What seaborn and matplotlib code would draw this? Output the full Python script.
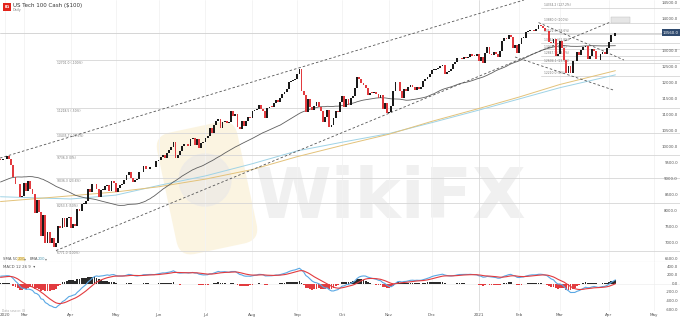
import numpy as np
import pandas as pd
import matplotlib
matplotlib.use("Agg")
import matplotlib.pyplot as plt
import matplotlib.transforms as mtransforms
from matplotlib.patches import Rectangle, FancyBboxPatch
import seaborn as sns

sns.set_theme(style="white")
plt.rcParams["font.family"] = ["DejaVu Sans"]

# ---------------- data (daily closes) ----------------
warmup_closes = [  # Dec 2019 .. 12 Feb 2020, only used for the indicators
    8310, 8257, 8302, 8310, 8399, 8367, 8377, 8413, 8480, 8503, 8572, 8574, 8581, 8627, 8655,
    8675, 8676, 8751, 8738, 8666, 8733,
    8872, 8794, 8848, 8846, 8912, 8991, 8973, 9092, 9041, 9058, 9174, 9212, 9215, 9222, 9257,
    9115, 8952, 9091, 9085, 9142, 8992,
    9126, 9335, 9368, 9446, 9401, 9518, 9518, 9613]
close_2020_02 = [9596, 9623, 9629, 9718, 9630, 9447, 9079, 8834, 8851, 8436, 8462]
close_2020_03 = [8877, 8614, 8952, 8689, 8531, 7948, 8339, 7970, 7221, 7873, 6994, 7335, 7020,
                 7150, 6879, 6994, 7553, 7486, 7798, 7502, 7774, 7813]
close_2020_04 = [7487, 7592, 7528, 8052, 8007, 8236, 8238, 8318, 8693, 8599, 8832, 8833, 8677,
                 8427, 8669, 8675, 8786, 8828, 8640, 8943, 8890]
close_2020_05 = [8609, 8711, 8809, 8854, 8980, 9121, 9226, 9022, 8899, 8967, 9015, 9228, 9207,
                 9393, 9300, 9324, 9368, 9376, 9368, 9555]
close_2020_06 = [9598, 9691, 9761, 9673, 9824, 9912, 10003, 10163, 9659, 9746, 9875, 10036,
                 10081, 10096, 10037, 10237, 10283, 10076, 10237, 9962, 10124, 10156]
close_2020_07 = [10279, 10341, 10604, 10434, 10697, 10800, 10868, 10590, 10788, 10826, 10748,
                 10767, 11117, 10968, 11031, 10635, 10569, 10803, 10643, 10802, 10939, 10905]
close_2020_08 = [11112, 11143, 11180, 11312, 11187, 11129, 10899, 11213, 11259, 11249, 11366,
                 11466, 11393, 11542, 11665, 11730, 11822, 12020, 12050, 12087, 12111]
close_2020_09 = [12292, 12421, 11759, 11623, 11084, 11491, 11241, 11143, 11270, 11397, 11262,
                 11129, 10794, 10922, 11167, 10632, 10672, 10914, 11117, 11088, 11418]
close_2020_10 = [11583, 11233, 11508, 11297, 11541, 11604, 11852, 12170, 12108, 11997, 11938,
                 11852, 11622, 11688, 11680, 11703, 11665, 11534, 11625, 11188, 11368, 11052]
close_2020_11 = [11096, 11285, 11738, 12020, 12035, 11738, 11534, 11810, 11734, 11863, 11925,
                 11857, 11763, 11882, 11821, 11879, 12049, 12110, 12193, 12268]
close_2020_12 = [12405, 12405, 12423, 12458, 12530, 12560, 12282, 12342, 12377, 12440, 12595,
                 12658, 12764, 12755, 12742, 12807, 12771, 12805, 12900, 12850, 12845, 12888]
close_2021_01 = [12694, 12802, 12623, 12939, 13105, 12903, 12880, 12955, 12890, 12803, 12998,
                 13297, 13404, 13366, 13483, 13427, 13089, 13170, 12925]
close_2021_02 = [13225, 13403, 13410, 13589, 13611, 13641, 13653, 13612, 13688, 13807, 13769,
                 13711, 13627, 13606, 13266, 13230, 13376, 12838, 12909]
close_2021_03 = [13314, 13090, 12712, 12323, 12526, 12300, 12696, 12672, 12960, 12882, 13024,
                 13104, 13141, 12732, 12835, 13041, 12986, 12736, 12724, 12895, 12955, 12893,
                 13091]
close_2021_04 = [13262, 13481, 13470, 13560]

holidays = ["2020-02-17", "2020-04-10", "2020-05-25", "2020-07-03", "2020-09-07", "2020-11-26",
            "2020-12-25", "2021-01-01", "2021-01-18", "2021-02-15", "2021-04-02", "2021-05-31"]

# moving averages
sma200_dates = ["2020-02-13", "2020-04-01", "2020-05-01", "2020-06-01", "2020-07-01",
                "2020-08-03", "2020-09-01", "2020-10-01", "2020-11-02", "2020-12-01",
                "2021-01-04", "2021-02-01", "2021-03-01", "2021-04-07"]
sma200_vals = [8300, 8480, 8600, 8760, 9000, 9300, 9700, 10050, 10400, 10800, 11200, 11560,
               11950, 12380]
ema200_vals = [8450, 8380, 8500, 8800, 9100, 9480, 9880, 10150, 10420, 10760, 11150, 11500,
               11850, 12250]

# fibonacci levels
fib1_high, fib1_low = 9736.0, 6771.0
fib1_ratios = [-1.0, -0.5, -0.236, 0.0, 0.236, 0.5, 1.0]
fib1_start = "2020-03-23"
fib2_high, fib2_low = 13880.0, 12210.0
fib2_ratios = [1.272, 1.0, 0.786, 0.618, 0.5, 0.382, 0.236, 0.0]
fib2_start = "2021-02-16"

# trend lines: (date, price) anchors
upper_channel = [("2020-02-13", 9660), ("2021-01-29", 14520)]
lower_channel = [("2020-03-23", 6771), ("2021-04-07", 13961)]
desc_upper = [("2021-02-12", 13880), ("2021-04-13", 12713)]
desc_lower = [("2021-01-28", 12807), ("2021-04-06", 11778)]

# 13500 sits under the current-price box in the reference
price_ticks = [6500, 7000, 7500, 8000, 8500, 9000, 9500, 10000, 10500, 11000, 11500, 12000,
               12500, 13000, 14000, 14500]
macd_ticks = [400, 200, 0, -200, -400, -600]
month_labels = ["2020", "Mar", "Apr", "May", "Jun", "Jul", "Aug", "Sep", "Oct", "Nov", "Dec",
                "2021", "Feb", "Mar", "Apr", "May"]

# ---------------- preparation ----------------
closes = (close_2020_02 + close_2020_03 + close_2020_04 + close_2020_05 + close_2020_06 +
          close_2020_07 + close_2020_08 + close_2020_09 + close_2020_10 + close_2020_11 +
          close_2020_12 + close_2021_01 + close_2021_02 + close_2021_03 + close_2021_04)
n = len(closes)
ext_dates = pd.bdate_range("2020-02-13", "2021-05-31", freq="C", holidays=holidays)


def di(d):
    d = pd.Timestamp(d)
    return float(np.searchsorted(ext_dates.values, np.datetime64(d)))


allc = pd.Series(warmup_closes + closes, dtype=float)
nw = len(warmup_closes)
sma50 = allc.rolling(50).mean().values[nw:]
ema12 = allc.ewm(span=12, adjust=False).mean()
ema26 = allc.ewm(span=26, adjust=False).mean()
macd = ema12 - ema26
signal = macd.ewm(span=9, adjust=False).mean()
hist = (macd - signal).values[nw:]
macd = macd.values[nw:]
signal = signal.values[nw:]
opens = np.array([warmup_closes[-1]] + closes[:-1], dtype=float)
cl = np.array(closes, dtype=float)
idx = np.arange(n)

df = pd.DataFrame({"i": idx, "close": cl, "open": opens, "sma50": sma50,
                   "macd": macd, "signal": signal, "hist": hist})

# ---------------- figure ----------------
W, H = 680, 318
fig = plt.figure(figsize=(W / 100, H / 100), dpi=100)
fig.patch.set_facecolor("white")


def fy(p):  # pixel y (from top) to figure fraction
    return 1 - p / H


ax = fig.add_axes([0, fy(262), 1, 262 / H])
axm = fig.add_axes([0, fy(311), 1, (311 - 262) / H])
xlo = 11 - 24 / 2.135
xhi = 11 + (W - 24) / 2.135
PY = (6415, 14584)
MY = (-635, 517)
for a in (ax, axm):
    a.set_xlim(xlo, xhi)
    a.set_facecolor("none")
    for s in a.spines.values():
        s.set_visible(False)
    a.set_yticks([])
    a.tick_params(length=0)
ax.set_ylim(*PY)
axm.set_ylim(*MY)
ax.set_xticks([])

# watermark
wm = fig.add_axes([0, 0, 1, 1], zorder=-1)
wm.set_xlim(0, W)
wm.set_ylim(H, 0)
wm.axis("off")
wm.add_patch(FancyBboxPatch((172, 132), 70, 112, boxstyle="round,pad=6,rounding_size=16",
                            fc="#fbf2da", ec="none", alpha=0.8,
                            transform=mtransforms.Affine2D().rotate_deg_around(207, 188, -12)
                            + wm.transData))
wm.add_patch(plt.Circle((205, 180), 26, color="#eeebe6", alpha=0.8))
wm.text(255, 198, "WikiFX", fontsize=50, fontweight="bold", color="#f0f0f0", va="center",
        ha="left", family="DejaVu Sans")

# month grid
mpos = []
seen = set()
for k, d in enumerate(ext_dates):
    key = (d.year, d.month)
    if key not in seen:
        seen.add(key)
        mpos.append(k)
mpos[0] = 2
for p, lab in zip(mpos, month_labels):
    col = "#d9d9d9" if lab == "2021" else "#f3f3f3"
    for a in (ax, axm):
        a.axvline(p, color=col, lw=0.6, zorder=0)

# fib lines
x1 = di(fib1_start)
for r in fib1_ratios:
    lv = fib1_high - r * (fib1_high - fib1_low)
    ax.plot([x1, xhi], [lv, lv], color="#d6d6d6", lw=0.6, zorder=1)
    ax.text(x1 + 0.5, lv - 20, f"{lv:.1f} ({r*100:g}%)", fontsize=2.2, color="#777777",
            va="top", ha="left", zorder=2)
x2 = di(fib2_start)
for r in fib2_ratios:
    lv = fib2_low + r * (fib2_high - fib2_low)
    ax.plot([x2, xhi], [lv, lv], color="#d6d6d6", lw=0.6, zorder=1)
    ax.text(x2 + 1.5, lv + 20, f"{lv:.1f} ({r*100:g}%)", fontsize=2.2, color="#777777",
            va="bottom", ha="left", zorder=2)

# current price line
ax.axhline(cl[-1], color="#cfcfcf", lw=0.6, zorder=1)

# trend lines
for seg in (upper_channel, lower_channel, desc_upper, desc_lower):
    xs = [di(seg[0][0]), di(seg[1][0])]
    ys = [seg[0][1], seg[1][1]]
    if seg is upper_channel:
        slope = (ys[1] - ys[0]) / (xs[1] - xs[0])
        xe = xs[0] + (PY[1] - ys[0]) / slope
        ys = [ys[0] + (xlo - xs[0]) * slope, PY[1]]
        xs = [xlo, xe]
    ax.plot(xs, ys, color="#555555", lw=0.6, ls=(0, (3, 2.5)), zorder=3)
ax.add_patch(Rectangle((di(lower_channel[1][0]) - 2, lower_channel[1][1] - 90), 9, 180,
                       fc="#e6e6e6", ec="#bbbbbb", lw=0.3, zorder=4))

# moving averages
sx = [di(d) for d in sma200_dates]
ma_df = pd.DataFrame({"x": sx, "sma200": sma200_vals, "ema200": ema200_vals})
sns.lineplot(data=ma_df, x="x", y="ema200", ax=ax, color="#9fd3e6", lw=0.7, zorder=2)
sns.lineplot(data=ma_df, x="x", y="sma200", ax=ax, color="#e3c27a", lw=0.7, zorder=2)
sns.lineplot(data=df, x="i", y="sma50", ax=ax, color="#5e5e5e", lw=0.6, zorder=2)

# candles
up = cl >= opens
body = np.where(np.abs(cl - opens) < 15, 15, cl - opens)
ax.bar(idx[up], body[up], bottom=opens[up], width=0.85, color="#1a1a1a", lw=0, zorder=5)
ax.bar(idx[~up], body[~up], bottom=opens[~up], width=0.85, color="#e23b3f", lw=0, zorder=5)
ax.set_xlabel("")
ax.set_ylabel("")

# separator between panes
ax.axhline(PY[0], color="#d0d0d0", lw=0.8)

# MACD
hc = np.where(df["hist"] >= 0, "#2a2a2a", "#e23b3f")
axm.bar(df["i"], df["hist"], width=0.85, color=hc, lw=0, zorder=2)
sns.lineplot(data=df, x="i", y="macd", ax=axm, color="#5aa8e4", lw=0.8, zorder=3)
sns.lineplot(data=df, x="i", y="signal", ax=axm, color="#e23b3f", lw=0.8, zorder=3)
axm.axhline(0, color="#eeeeee", lw=0.5, zorder=1)
axm.set_ylabel("")
axm.set_xlabel("")
axm.set_xticks(mpos)
axm.set_xticklabels(month_labels, fontsize=3, color="#555555")
axm.tick_params(axis="x", pad=1.2, length=0)

# keep the fixed scales after seaborn drawing
for a, yl in ((ax, PY), (axm, MY)):
    a.set_xlim(xlo, xhi)
    a.set_ylim(*yl)

# right-hand axis labels
trp = mtransforms.blended_transform_factory(ax.transAxes, ax.transData)
for v in price_ticks:
    ax.text(0.997, v, f"{v:.1f}", transform=trp, fontsize=2.8, color="#555555",
            ha="right", va="center", zorder=6)
trm = mtransforms.blended_transform_factory(axm.transAxes, axm.transData)
for v in macd_ticks:
    axm.text(0.997, v, f"{v:.1f}", transform=trm, fontsize=2.8, color="#555555",
             ha="right", va="center", zorder=6)

# current price box
ax.text(0.9985, cl[-1], f"{cl[-1]:.1f}", transform=trp, fontsize=2.8, color="white",
        ha="right", va="center", zorder=7,
        bbox=dict(boxstyle="square,pad=0.35", fc="#2f4a6e", ec="none"))


# legends inside panes
def ptext(x, y, s, **kw):
    fig.text(x / W, fy(y), s, fontsize=kw.pop("fontsize", 2.8), va="center", ha="left", **kw)


ptext(3, 259, "SMA 50", color="#555555")
ptext(17.5, 259, "200", color="#b88f20", bbox=dict(boxstyle="square,pad=0.1", fc="#f7e9b8", ec="none"))
ptext(24, 259, "▾", color="#777777")
ptext(30, 259, "EMA", color="#555555")
ptext(38, 259, "200", color="#5b9fb5")
ptext(45, 259, "▾", color="#777777")
ptext(3, 266.5, "MACD 12 26 9  ▾", color="#555555")
ptext(2, 311, "Data source: IG", color="#aaaaaa", fontsize=2.2)

# title & logo
fig.patches.append(Rectangle((3 / W, fy(11)), 8 / W, 8 / H, transform=fig.transFigure,
                             fc="#e2231a", ec="none"))
fig.text(7 / W, fy(7), "IG", fontsize=3.2, color="white", ha="center", va="center",
         fontweight="bold")
fig.text(13 / W, fy(5.2), "US Tech 100 Cash ($100)", fontsize=4, color="#333333",
         ha="left", va="center")
fig.text(13 / W, fy(9.8), "Daily", fontsize=2.4, color="#888888", ha="left", va="center")

fig.savefig("out.png", dpi=100, facecolor="white")
